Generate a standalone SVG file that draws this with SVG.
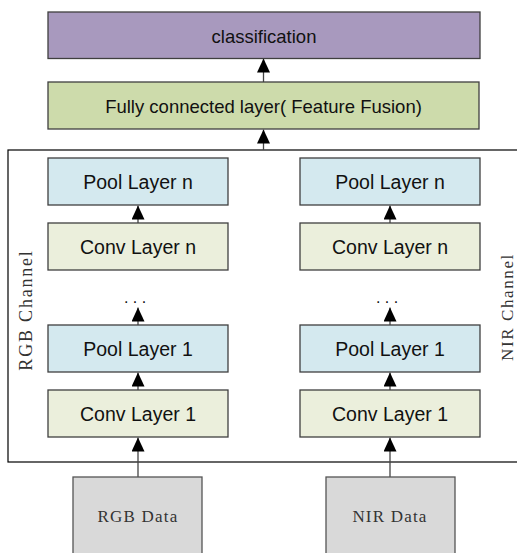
<svg xmlns="http://www.w3.org/2000/svg" width="517" height="553" viewBox="0 0 517 553">
<style>
.box{stroke:#3f3f3f;stroke-width:1.3}
.cls{fill:#a899be}
.fc{fill:#cddbab}
.pool{fill:#d4e9ef}
.conv{fill:#ebefdc}
.data{fill:#d9d9d9;stroke:#555;stroke-width:1.3}
.t{font-family:"Liberation Sans",Arial,sans-serif;font-size:19.5px;fill:#111;text-anchor:middle;dominant-baseline:central}
.m{font-family:"Liberation Serif","Times New Roman",serif;fill:#333;text-anchor:middle}
.line{stroke:#444;stroke-width:1.3;fill:none}
</style>
<defs>
<marker id="ah" markerWidth="13" markerHeight="14" refX="6.5" refY="0" orient="0" markerUnits="userSpaceOnUse" viewBox="0 0 13 14">
<path d="M6.5 0 L13 14 L0 14 Z" fill="#000"/>
</marker>
</defs>
<rect x="8" y="150" width="530" height="312" fill="none" stroke="#000" stroke-width="1.2"/>
<g id="connectors">
<line class="line" x1="263.5" y1="82" x2="263.5" y2="58.5" marker-end="url(#ah)"/>
<line class="line" x1="263.5" y1="150" x2="263.5" y2="129.5" marker-end="url(#ah)"/>
<line class="line" x1="138" y1="223" x2="138" y2="205.5" marker-end="url(#ah)"/>
<line class="line" x1="138" y1="325" x2="138" y2="307.5" marker-end="url(#ah)"/>
<line class="line" x1="138" y1="390" x2="138" y2="372.5" marker-end="url(#ah)"/>
<line class="line" x1="138" y1="477" x2="138" y2="437.5" marker-end="url(#ah)"/>
<line class="line" x1="390" y1="223" x2="390" y2="205.5" marker-end="url(#ah)"/>
<line class="line" x1="390" y1="325" x2="390" y2="307.5" marker-end="url(#ah)"/>
<line class="line" x1="390" y1="390" x2="390" y2="372.5" marker-end="url(#ah)"/>
<line class="line" x1="390" y1="477" x2="390" y2="437.5" marker-end="url(#ah)"/>
</g>
<g id="classification"><rect class="box cls" x="48" y="12" width="432" height="46.5"/><text class="t" x="264" y="36" style="font-size:18.5px">classification</text></g>
<g id="fc"><rect class="box fc" x="48" y="82" width="431" height="47"/><text class="t" x="263.5" y="106" style="font-size:18.5px">Fully connected layer( Feature Fusion)</text></g>
<g id="rgb-pool-n"><rect class="box pool" x="48" y="158" width="180" height="47"/><text class="t" x="138" y="182">Pool Layer n</text></g>
<g id="rgb-conv-n"><rect class="box conv" x="48" y="223" width="180" height="47"/><text class="t" x="138" y="247">Conv Layer n</text></g>
<g id="rgb-dots"><text class="t" x="135" y="297" style="font-size:16px">. . .</text></g>
<g id="rgb-pool-1"><rect class="box pool" x="48" y="325" width="180" height="47"/><text class="t" x="138" y="349">Pool Layer 1</text></g>
<g id="rgb-conv-1"><rect class="box conv" x="48" y="390" width="180" height="47"/><text class="t" x="138" y="414">Conv Layer 1</text></g>
<g id="nir-pool-n"><rect class="box pool" x="300" y="158" width="180" height="47"/><text class="t" x="390" y="182">Pool Layer n</text></g>
<g id="nir-conv-n"><rect class="box conv" x="300" y="223" width="180" height="47"/><text class="t" x="390" y="247">Conv Layer n</text></g>
<g id="nir-dots"><text class="t" x="387" y="297" style="font-size:16px">. . .</text></g>
<g id="nir-pool-1"><rect class="box pool" x="300" y="325" width="180" height="47"/><text class="t" x="390" y="349">Pool Layer 1</text></g>
<g id="nir-conv-1"><rect class="box conv" x="300" y="390" width="180" height="47"/><text class="t" x="390" y="414">Conv Layer 1</text></g>
<g id="rgb-data"><rect class="data" x="73" y="477" width="129" height="90"/><text class="m" x="138" y="522" font-size="17" letter-spacing="1.2">RGB Data</text></g>
<g id="nir-data"><rect class="data" x="326" y="477" width="129" height="90"/><text class="m" x="390" y="522" font-size="17" letter-spacing="1.2">NIR Data</text></g>
<g id="rgb-channel"><text class="m" transform="translate(32,310) rotate(-90)" font-size="18" letter-spacing="1.8">RGB Channel</text></g>
<g id="nir-channel"><text class="m" transform="translate(513,307) rotate(-90)" font-size="17" letter-spacing="1.6">NIR Channel</text></g>
</svg>
